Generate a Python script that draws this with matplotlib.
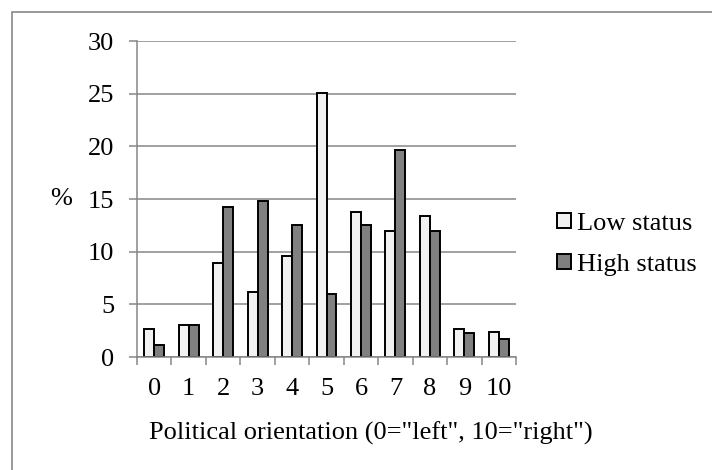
import matplotlib
matplotlib.use("Agg")
import matplotlib.pyplot as plt
import numpy as np
from matplotlib.patches import Rectangle

categories = ["0", "1", "2", "3", "4", "5", "6", "7", "8", "9", "10"]
low_status = [2.7, 3.05, 8.9, 6.15, 9.6, 25.1, 13.75, 12.0, 13.4, 2.7, 2.35]
high_status = [1.1, 3.05, 14.25, 14.8, 12.55, 5.95, 12.55, 19.65, 11.95, 2.25, 1.7]
y_ticks = [0, 5, 10, 15, 20, 25, 30]

plt.rcParams['font.family'] = ['Liberation Serif', 'DejaVu Serif']
FS = 19

fig = plt.figure(figsize=(7.12, 4.70), dpi=100)
ax = fig.add_axes([137/712, 1-357/470, 379/712, 316/470])

x = np.arange(len(categories))
w = 0.29
b1 = ax.bar(x - w/2, low_status, w, color="#f2f2f2", edgecolor="black", linewidth=1.4, label="Low status", zorder=3)
b2 = ax.bar(x + w/2, high_status, w, color="#808080", edgecolor="black", linewidth=1.4, label="High status", zorder=3)

ax.set_xlim(-0.5, len(categories) - 0.5)
ax.set_ylim(0, 30)
ax.set_yticks(y_ticks)
ax.set_yticklabels([str(t) for t in y_ticks], fontsize=FS)
ax.set_xticks(np.arange(-0.5, len(categories), 1.0))
ax.set_xticklabels([])
ax.set_xticks(x, minor=True)
ax.set_xticklabels(categories, minor=True, fontsize=FS)

gc = "#868686"
ax.yaxis.grid(True, color=gc, linewidth=1.1, zorder=0)
ax.set_axisbelow(True)
for s in ["top", "right"]:
    ax.spines[s].set_visible(False)
for s in ["left", "bottom"]:
    ax.spines[s].set_color(gc)
    ax.spines[s].set_linewidth(1.1)
    ax.spines[s].set_zorder(4)
ax.tick_params(axis="y", which="major", length=5.5, width=1.1, color=gc, pad=11)
ax.tick_params(axis="x", which="major", length=5.5, width=1.1, color=gc)
ax.tick_params(axis="x", which="minor", length=0, pad=15)

ax.set_xlabel('Political orientation (0="left", 10="right")', fontsize=FS, va="center", ha="center")
ax.xaxis.set_label_coords((371-137)/379, (357-433)/316)
ax.set_ylabel('%', fontsize=FS, rotation=0, va="center", ha="center")
ax.yaxis.set_label_coords((61-137)/379, 0.5)

leg = fig.legend(handles=[b1, b2], loc="center left", bbox_to_anchor=(557/712, 1-244.5/470),
                 frameon=False, fontsize=FS, borderpad=0, borderaxespad=0,
                 handlelength=0.52, handleheight=0.52, handletextpad=0.25, labelspacing=0.72)

fig.patches.append(Rectangle((12/712, -0.1), 1.2, 1 - 12/470 + 0.1, transform=fig.transFigure,
                             fill=False, edgecolor="#888888", linewidth=1.2))

fig.savefig("out.png", dpi=100)
